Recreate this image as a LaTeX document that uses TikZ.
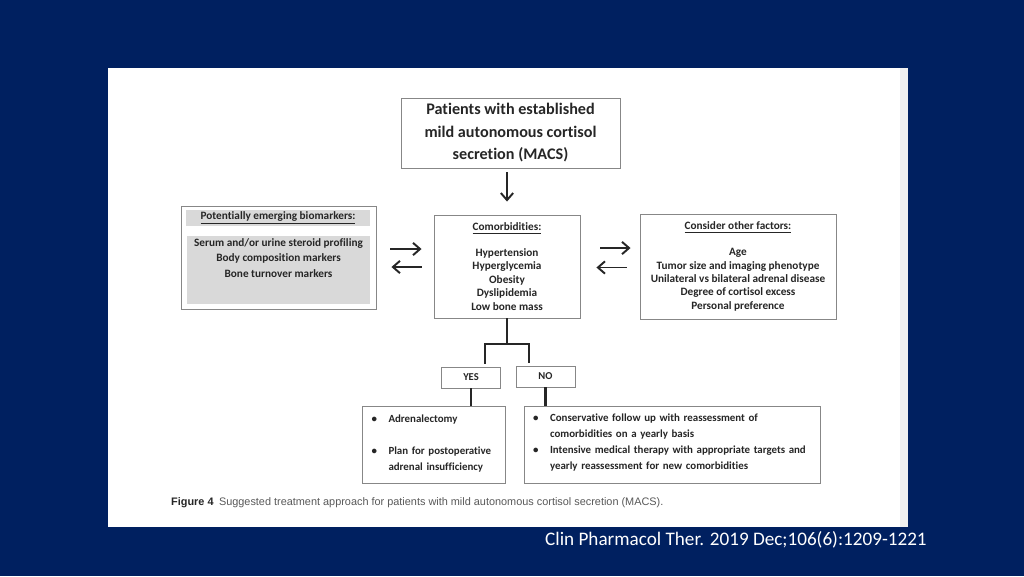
\documentclass[tikz,border=0pt]{standalone}
\usepackage{fontspec}
\setmainfont{Carlito}[Ligatures=NoCommon]
\newfontfamily\capfont{Liberation Sans}
\usetikzlibrary{arrows.meta}
\definecolor{navy}{RGB}{0,32,96}
\definecolor{boxline}{RGB}{135,135,135}
\definecolor{boxgray}{RGB}{217,217,217}
\definecolor{ink}{RGB}{38,38,38}
\newcommand\listfont{\fontsize{6.4}{7.65}\selectfont\bfseries}
\newcommand\bulletfont{\fontsize{6.2}{9.07}\selectfont\bfseries}
\newcommand\liftup[1]{\raisebox{0pt}[\height][\dimexpr\depth+0.08cm\relax]{#1}}
\tikzset{
  box/.style={draw=boxline, line width=0.55pt, fill=white, inner sep=0pt, text=ink, font=\listfont, align=center},
  arr/.style={draw=ink, line width=1.1pt, -{Straight Barb[length=4pt,width=7pt]}},
  stem/.style={draw=ink, line width=1.5pt},
}

\begin{document}
\begin{tikzpicture}[x=0.02cm,y=-0.02cm]
% slide and page
\fill[navy] (0,0) rectangle (1024,576);
\fill[white] (108,68) rectangle (908,527);
\fill[gray!12] (900,68) rectangle (908,527);

% top
\node[box, minimum width=4.38cm, minimum height=1.4cm, font=\fontsize{9.2}{12.8}\selectfont\bfseries] (macs) at (510.5,133) {Patients with established\\mild autonomous cortisol\\secretion (MACS)};

% middle row
\node[box, minimum width=2.92cm, minimum height=2.06cm] (com) at (507,266.5) {\underline{Comorbidities:}\\[7pt]Hypertension\\Hyperglycemia\\Obesity\\Dyslipidemia\\Low bone mass};
\node[box, minimum width=3.9cm, minimum height=2.06cm] (bio) at (278.5,257.5) {};
\node[fill=boxgray, minimum width=3.68cm, minimum height=0.32cm, inner sep=0pt, text=ink, font=\listfont] (biohead) at (278,218) {\underline{Potentially emerging biomarkers:}};
\node[fill=boxgray, minimum width=3.66cm, minimum height=1.36cm, inner sep=0pt] (biofill) at (278.5,270) {};
\node[text=ink, align=center, font=\fontsize{6.4}{8.8}\selectfont\bfseries] (biolist) at (278.5,258) {Serum and/or urine steroid profiling\\Body composition markers\\Bone turnover markers};
\node[box, minimum width=3.92cm, minimum height=2.1cm] (fac) at (738,266.5) {\underline{Consider other factors:}\\[7pt]Age\\Tumor size and imaging phenotype\\Unilateral vs bilateral adrenal disease\\Degree of cortisol excess\\Personal preference};

% yes / no
\node[box, minimum width=1.18cm, minimum height=0.42cm, font=\fontsize{6}{7}\selectfont\bfseries] (yes) at (471,377.5) {YES};
\node[box, minimum width=1.18cm, minimum height=0.42cm, font=\fontsize{6}{7}\selectfont\bfseries] (no) at (545.5,376.5) {NO};

% bottom row
\node[box, minimum width=2.86cm, minimum height=1.54cm, text width=2.5cm, inner xsep=0.18cm, align=left, font=\bulletfont] (adr) at (434,445) {\liftup{%
\begin{tabular}{@{}p{0.34cm}@{}l@{}}
\textbullet & Adrenalectomy\\
 & \\
\textbullet & Plan for postoperative\\
 & adrenal insufficiency
\end{tabular}}};
\node[box, minimum width=5.94cm, minimum height=1.54cm, text width=5.58cm, inner xsep=0.18cm, align=left, font=\bulletfont] (cons) at (672.5,444.5) {\liftup{%
\begin{tabular}{@{}p{0.34cm}@{}l@{}}
\textbullet & Conservative follow up with reassessment of\\
 & comorbidities on a yearly basis\\
\textbullet & Intensive medical therapy with appropriate targets and\\
 & yearly reassessment for new comorbidities
\end{tabular}}};

% arrows
\draw[arr, shorten <=0.08cm, shorten >=0.26cm] (macs.south -| com.north) -- (com.north);
\draw[arr, shorten <=0.28cm, shorten >=0.24cm] ([yshift=0.17cm]bio.east) -- ([yshift=0.17cm]bio.east -| com.west);
\draw[arr, shorten <=0.24cm, shorten >=0.3cm] ([yshift=-0.19cm]bio.east -| com.west) -- ([yshift=-0.19cm]bio.east);
\draw[arr, shorten <=0.4cm, shorten >=0.18cm] ([yshift=0.37cm]com.east) -- ([yshift=0.37cm]com.east -| fac.west);
\draw[arr, shorten <=0.26cm, shorten >=0.32cm] ([yshift=-0.02cm]com.east -| fac.west) -- ([yshift=-0.02cm]com.east);

% branch
\coordinate (forkl) at (485,344);
\coordinate (forkr) at (529,344);
\draw[stem] (com.south) -- (com.south |- forkl);
\draw[stem, shorten <=0.06cm, shorten >=0.06cm] (forkl |- yes.north) -- (forkl) -- (forkr) -- (forkr |- no.north);
\draw[stem] (yes.south) -- (yes.south |- adr.north);
\draw[stem] (no.south) -- (no.south |- cons.north);

% caption and source
\node[anchor=west, text=gray!70!black, font=\capfont\fontsize{6.2}{7}\selectfont] (cap) at (165,503) {\textbf{\color{ink}Figure 4}\enspace Suggested treatment approach for patients with mild autonomous cortisol secretion (MACS).};
\node[anchor=west, text=white, font=\fontsize{10.9}{13}\selectfont] (cite) at (539,540) {Clin Pharmacol Ther. 2019 Dec;106(6):1209-1221};
\end{tikzpicture}
\end{document}
